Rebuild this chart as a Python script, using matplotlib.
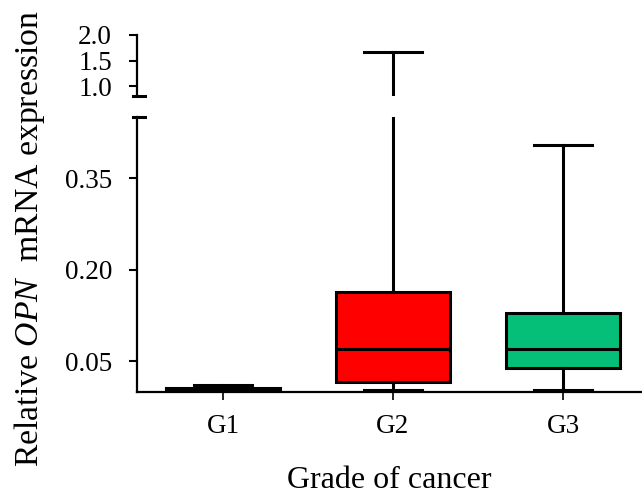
import matplotlib
matplotlib.use('Agg')
import matplotlib.pyplot as plt
from matplotlib.lines import Line2D

plt.rcParams['font.family'] = 'Liberation Serif'
plt.rcParams['mathtext.fontset'] = 'custom'
plt.rcParams['mathtext.rm'] = 'Liberation Serif'
plt.rcParams['mathtext.it'] = 'Liberation Serif:italic'

# box statistics
groups = ['G1', 'G2', 'G3']
whislo = [0.0, 0.004, 0.004]
q1 = [0.001, 0.017, 0.0385]
med = [0.004, 0.071, 0.071]
q3 = [0.007, 0.163, 0.130]
whishi = [0.012, 1.67, 0.404]
colors = ['black', '#ff0000', '#05bf78']

top_ticks = [1.0, 1.5, 2.0]
bot_ticks = [0.05, 0.20, 0.35]

W, H = 642, 495
fig = plt.figure(figsize=(W / 100, H / 100), dpi=100)

# pixel layout of the two panels
x0, x1 = 137, 641
ax_top = fig.add_axes([x0 / W, 1 - 96 / H, (x1 - x0) / W, (96 - 35) / H])
ax_bot = fig.add_axes([x0 / W, 1 - 392 / H, (x1 - x0) / W, (392 - 117) / H])

stats = []
for i in range(len(groups)):
    stats.append(dict(label=groups[i], whislo=whislo[i], q1=q1[i], med=med[i],
                      q3=q3[i], whishi=whishi[i], fliers=[]))

pos = [1, 2, 3]
xlim = (1 - 86 / 170, 1 - 86 / 170 + (x1 - x0) / 170)
lw = 2.2
for ax in (ax_top, ax_bot):
    bp = ax.bxp(stats, positions=pos, widths=0.665, capwidths=0.34,
                patch_artist=True, showfliers=False,
                boxprops=dict(linewidth=lw, edgecolor='black'),
                whiskerprops=dict(linewidth=lw, color='black'),
                capprops=dict(linewidth=lw, color='black'),
                medianprops=dict(linewidth=lw, color='black'))
    for patch, c in zip(bp['boxes'], colors):
        patch.set_facecolor(c)
    ax.set_xlim(*xlim)
    ax.spines['top'].set_visible(False)
    ax.spines['right'].set_visible(False)
    ax.spines['left'].set_linewidth(1.6)
    ax.spines['bottom'].set_linewidth(1.6)
    ax.tick_params(axis='y', direction='out', length=6, width=1.5,
                   labelsize=19.5, pad=12)

ax_top.set_ylim(0.804, 2.0)
ax_top.set_yticks(top_ticks)
ax_top.set_yticklabels(['%.1f' % t for t in top_ticks])
ax_top.spines['bottom'].set_visible(False)
ax_top.tick_params(axis='x', bottom=False, labelbottom=False)

ax_bot.set_ylim(0.0, 0.45)
ax_bot.set_yticks(bot_ticks)
ax_bot.set_yticklabels(['%.2f' % t for t in bot_ticks])
ax_bot.set_xticks(pos)
ax_bot.set_xticklabels(groups)
ax_bot.tick_params(axis='x', direction='out', length=6, width=1.2,
                   labelsize=19.5, pad=10)

# axis break marks
for yy in (96, 117):
    fig.add_artist(Line2D([133 / W, 145 / W], [1 - yy / H, 1 - yy / H],
                          color='black', linewidth=2.2))

fig.text(30 / W, 1 - 238 / H, r'Relative $\it{OPN}$  mRNA expression',
         rotation=90, ha='center', va='center', fontsize=24.3)
fig.text(389 / W, 1 - 488 / H, 'Grade of cancer',
         ha='center', va='baseline', fontsize=23)

fig.savefig('out.png', dpi=100)
